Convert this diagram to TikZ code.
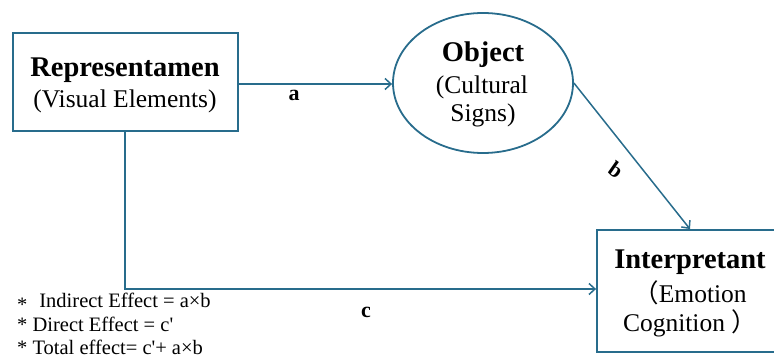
\documentclass[tikz,border=0pt]{standalone}
\usepackage{fontspec}
\setmainfont{Liberation Serif}
\newfontfamily\cjk{Noto Sans CJK SC}
\usetikzlibrary{arrows.meta,shapes.geometric}
\definecolor{lineblue}{RGB}{40,108,140}
\begin{document}
\begin{tikzpicture}[x=1pt,y=-1pt,
  box/.style={draw=lineblue,line width=1.8pt,inner sep=0pt},
  conn/.style={draw=lineblue,line width=1.5pt,-{Straight Barb[length=6pt,width=11pt,line width=1.5pt]}},
  ttl/.style={anchor=base,inner sep=0pt,font=\bfseries\fontsize{28.5}{30}\selectfont},
  sub/.style={anchor=base,inner sep=0pt,font=\fontsize{25.5}{28}\selectfont},
  lab/.style={anchor=base,inner sep=0pt,font=\bfseries\fontsize{22}{22}\selectfont},
  note/.style={anchor=base west,inner sep=0pt,font=\fontsize{20.5}{22}\selectfont}]
\useasboundingbox (0,0) rectangle (774,358);
\node[box,minimum width=225pt,minimum height=98pt] (rep) at (125.5,82) {};
\node[box,ellipse,minimum width=180pt,minimum height=140pt] (obj) at (483,83) {};
\node[box,minimum width=192pt,minimum height=122pt] (int) at (693,291) {};
\node[ttl] (rept) at (125,77) {Representamen};
\node[sub] (reps) at (125,108) {(Visual Elements)};
\node[ttl] (objt) at (483,62) {Object};
\node[sub] (objs1) at (482,94) {(Cultural};
\node[sub] (objs2) at (483,122) {Signs)};
\node[ttl] (intt) at (690,269) {Interpretant};
\node[sub] (ints1) at (690,302) {{\cjk （}Emotion};
\node[sub] (ints2) at (690,331) {Cognition {\cjk ）}};
\coordinate (c1) at (125,289);
\draw[conn] (rep.east |- 0,84) -- (obj.west |- 0,84);
\draw[conn] (obj.east) -- (690,229.1);
\draw[conn] (rep.south -| c1) -- (c1) -- (int.west |- c1);
\node[lab] (la) at (294,101) {a};
\node[lab,rotate=-35,anchor=center] (lb) at (616,170) {b};
\node[lab] (lc) at (366,317) {c};
\node[note] (n1) at (17,307) {\raisebox{-0.22em}{*}\,\, Indirect Effect = a×b};
\node[note] (n2) at (17,331) {* Direct Effect = c\textquotesingle};
\node[note] (n3) at (17,354) {* Total effect= c\textquotesingle+ a×b};
\end{tikzpicture}
\end{document}
